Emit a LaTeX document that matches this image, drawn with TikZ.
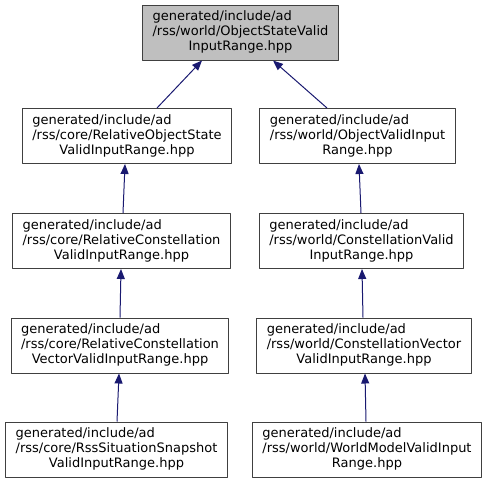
\documentclass[tikz,border=0pt]{standalone}
\usepackage{fontspec}
\setmainfont{DejaVu Sans}
\usetikzlibrary{arrows.meta}
\definecolor{edgeblue}{RGB}{25,25,112}
\definecolor{boxline}{RGB}{64,64,64}
\newcommand{\incfile}[3]{\begin{tabular}{@{}l@{}}#1\\#2\\\multicolumn{1}{@{}c@{}}{#3}\end{tabular}}
\tikzset{
  file/.style={draw=boxline,line width=1pt,fill=white,minimum height=55pt,inner xsep=10pt,inner ysep=0pt,font=\fontsize{13}{15}\selectfont},
  dep/.style={draw=edgeblue,line width=1pt,<-}
}
\begin{document}
\begin{tikzpicture}[x=1pt,y=1pt,>={Triangle[length=10pt,width=8pt]},line join=round]
\useasboundingbox (0,0) rectangle (488,-483);
% files
\node[file,fill={rgb,255:red,191;green,191;blue,191}] (top) at (240.5,-32.5) {\incfile{generated/include/ad}{/rss/world/ObjectStateValid}{InputRange.hpp}};
\node[file] (ros) at (127,-136) {\incfile{generated/include/ad}{/rss/core/RelativeObjectState}{ValidInputRange.hpp}};
\node[file] (ov) at (357.5,-136) {\incfile{generated/include/ad}{/rss/world/ObjectValidInput}{Range.hpp}};
\node[file] (rc) at (121.5,-241) {\incfile{generated/include/ad}{/rss/core/RelativeConstellation}{ValidInputRange.hpp}};
\node[file] (cv) at (361.5,-241) {\incfile{generated/include/ad}{/rss/world/ConstellationValid}{InputRange.hpp}};
\node[file] (rcv) at (120,-345.5) {\incfile{generated/include/ad}{/rss/core/RelativeConstellation}{VectorValidInputRange.hpp}};
\node[file] (cvv) at (364,-345.5) {\incfile{generated/include/ad}{/rss/world/ConstellationVector}{ValidInputRange.hpp}};
\node[file] (rss) at (116.5,-449.5) {\incfile{generated/include/ad}{/rss/core/RssSituationSnapshot}{ValidInputRange.hpp}};
\node[file] (wm) at (367,-449.5) {\incfile{generated/include/ad}{/rss/world/WorldModelValidInput}{Range.hpp}};
% includes
\draw[dep] ([xshift=-38.5pt]top.south) -- ([xshift=30pt]ros.north);
\draw[dep] ([xshift=32.5pt]top.south) -- ([xshift=-30.5pt]ov.north);
\draw[dep] ([xshift=-2pt]ros.south) -- ([xshift=1.5pt]rc.north);
\draw[dep] ([xshift=1.5pt]ov.south) -- ([xshift=-0.5pt]cv.north);
\draw[dep] ([xshift=-0.5pt]rc.south) -- (rcv.north);
\draw[dep] ([xshift=0.5pt]cv.south) -- ([xshift=-1pt]cvv.north);
\draw[dep] ([xshift=-1pt]rcv.south) -- ([xshift=0.5pt]rss.north);
\draw[dep] ([xshift=1pt]cvv.south) -- ([xshift=-1pt]wm.north);
\end{tikzpicture}
\end{document}
